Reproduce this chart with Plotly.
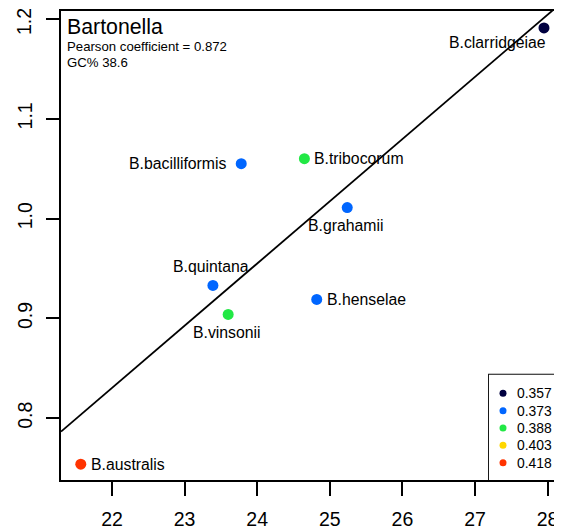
import numpy as np
import plotly.graph_objects as go

# ---------------- data ----------------
species = ["B.clarridgeiae", "B.bacilliformis", "B.tribocorum", "B.grahamii",
           "B.quintana", "B.henselae", "B.vinsonii", "B.australis"]
x_vals = [27.95, 23.78, 24.65, 25.24, 23.39, 24.82, 23.60, 21.57]
y_vals = [1.191, 1.055, 1.060, 1.011, 0.933, 0.919, 0.904, 0.754]
gc_vals = ["0.357", "0.373", "0.388", "0.373", "0.373", "0.373", "0.388", "0.418"]
gc_levels = ["0.357", "0.373", "0.388", "0.403", "0.418"]
x_ticks = [22, 23, 24, 25, 26, 27, 28]
y_ticks = [0.8, 0.9, 1.0, 1.1, 1.2]
y_tick_labels = ["0.8", "0.9", "1.0", "1.1", "1.2"]
title_text = "Bartonella"
pearson_text = "Pearson coefficient = 0.872"
gc_text = "GC% 38.6"

# ---------------- styles ----------------
level_colors = ["#000040", "#0066FF", "#22E845", "#FFD700", "#FF3300"]
label_pos = ["below-left", "left", "right", "below", "above", "right", "below", "right"]
FONT = "Liberation Sans, Arial, Helvetica, sans-serif"
X_RANGE = [21.2975, 28.1844]
Y_RANGE = [0.7381, 1.208]
LW = 1.8
TICK_FONT = dict(size=19.5, family=FONT, color="black")

color_of = dict(zip(gc_levels, level_colors))
pt_colors = [color_of[g] for g in gc_vals]

fig = go.Figure()

# regression line
slope, intercept = np.polyfit(np.array(x_vals), np.array(y_vals), 1)
lx = np.array(X_RANGE)
fig.add_trace(go.Scatter(x=lx, y=slope * lx + intercept, mode="lines",
                         line=dict(color="black", width=LW), hoverinfo="skip",
                         showlegend=False))

# points
fig.add_trace(go.Scatter(x=x_vals, y=y_vals, mode="markers",
                         marker=dict(size=11, color=pt_colors, line=dict(width=0)),
                         text=species, showlegend=False))

# point labels
pos_style = {
    "left": dict(xanchor="right", yanchor="middle", xshift=-12, yshift=0),
    "right": dict(xanchor="left", yanchor="middle", xshift=8, yshift=0),
    "below": dict(xanchor="center", yanchor="middle", xshift=-1, yshift=-18),
    "above": dict(xanchor="center", yanchor="middle", xshift=-2, yshift=19),
    "below-left": dict(xanchor="right", yanchor="middle", xshift=4, yshift=-15),
}
for name, xv, yv, p in zip(species, x_vals, y_vals, label_pos):
    fig.add_annotation(x=xv, y=yv, xref="x", yref="y", text=name, showarrow=False,
                       font=dict(size=15.8, family=FONT, color="black"), **pos_style[p])

# title block (top-left inside plot)
fig.add_annotation(x=0, y=1, xref="paper", yref="paper", text=title_text, showarrow=False,
                   xanchor="left", yanchor="middle", xshift=4, yshift=-16,
                   font=dict(size=21.3, family=FONT, color="black"))
fig.add_annotation(x=0, y=1, xref="paper", yref="paper", text=pearson_text, showarrow=False,
                   xanchor="left", yanchor="middle", xshift=4, yshift=-35,
                   font=dict(size=13.2, family=FONT, color="black"))
fig.add_annotation(x=0, y=1, xref="paper", yref="paper", text=gc_text, showarrow=False,
                   xanchor="left", yanchor="middle", xshift=4, yshift=-51.5,
                   font=dict(size=13.2, family=FONT, color="black"))

# legend drawn in its own small subplot (bottom-right of plot)
n = len(gc_levels)
leg_y = [18.6 + 17.35 * i for i in range(n)]
fig.add_trace(go.Scatter(x=[14] * n, y=leg_y, mode="markers", xaxis="x2", yaxis="y2",
                         marker=dict(size=7, color=level_colors, line=dict(width=0)),
                         hoverinfo="skip", showlegend=False))
for lvl, yy in zip(gc_levels, leg_y):
    fig.add_annotation(x=25.5, y=yy, xref="x2", yref="y2", text=lvl, showarrow=False,
                       xanchor="left", yanchor="middle",
                       font=dict(size=13.9, family=FONT, color="black"))
fig.add_shape(type="rect", xref="x2 domain", yref="y2 domain", x0=0, x1=1, y0=0, y1=1,
              line=dict(color="black", width=LW), fillcolor="white", layer="below")

# top y tick label: nudged down a little so it is not clipped by the page edge
y_ticktext = y_tick_labels[:-1] + [""]
fig.add_annotation(x=0, y=y_ticks[-1], xref="paper", yref="y", text=y_tick_labels[-1],
                   textangle=-90, showarrow=False, xanchor="center", yanchor="middle",
                   xshift=-37, yshift=-3, font=TICK_FONT)

axis_common = dict(showline=True, linecolor="black", linewidth=LW, mirror=True,
                   ticks="outside", tickcolor="black", tickwidth=LW,
                   showgrid=False, zeroline=False, automargin=False,
                   ticklabeloverflow="allow", tickfont=TICK_FONT)

# page body has an 8px margin, so the figure is 8px smaller each way
fig.update_layout(
    template="none",
    width=554, height=522,
    margin=dict(l=53, r=1, t=3, b=50, autoexpand=False),
    plot_bgcolor="white", paper_bgcolor="white",
    showlegend=False,
    font=dict(family=FONT, color="black"),
    xaxis=dict(range=X_RANGE, tickvals=x_ticks, ticklen=14, ticklabelstandoff=7, **axis_common),
    yaxis=dict(range=Y_RANGE, tickvals=y_ticks, ticktext=y_ticktext, tickangle=-90,
               ticklen=13, ticklabelstandoff=6, **axis_common),
    xaxis2=dict(domain=[0.856, 1.0], range=[0, 72], anchor="y2", visible=False, fixedrange=True),
    yaxis2=dict(domain=[0.0, 0.2245], range=[105.3, 0], anchor="x2", visible=False, fixedrange=True),
)

fig.write_html("out.html")
